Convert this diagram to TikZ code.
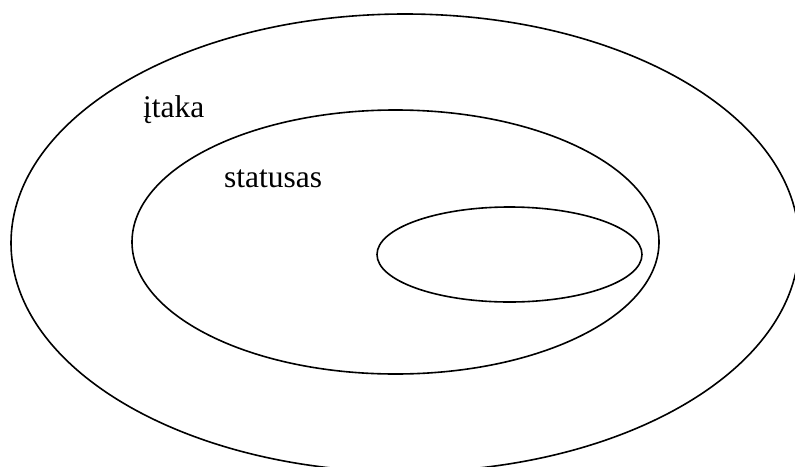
\documentclass[tikz,border=0pt]{standalone}
\usepackage{fontspec}
\setmainfont{Liberation Serif}
\tikzset{
  ring/.style={draw=black, line width=1.6pt},
  lbl/.style={anchor=base west, inner sep=0pt, font=\fontsize{31.5}{38}\selectfont}
}
\begin{document}
\begin{tikzpicture}[x=1pt,y=-1pt]
\useasboundingbox (0,0) rectangle (795,466);
\draw[ring] (405,243) ellipse [x radius=394, y radius=229];
\draw[ring] (395.5,242) ellipse [x radius=263.5, y radius=132];
\draw[ring] (509.5,254.5) ellipse [x radius=132.5, y radius=47.5];
\node[lbl] (itaka) at (143,117) {įtaka};
\node[lbl] (statusas) at (224,187) {statusas};
\end{tikzpicture}
\end{document}
